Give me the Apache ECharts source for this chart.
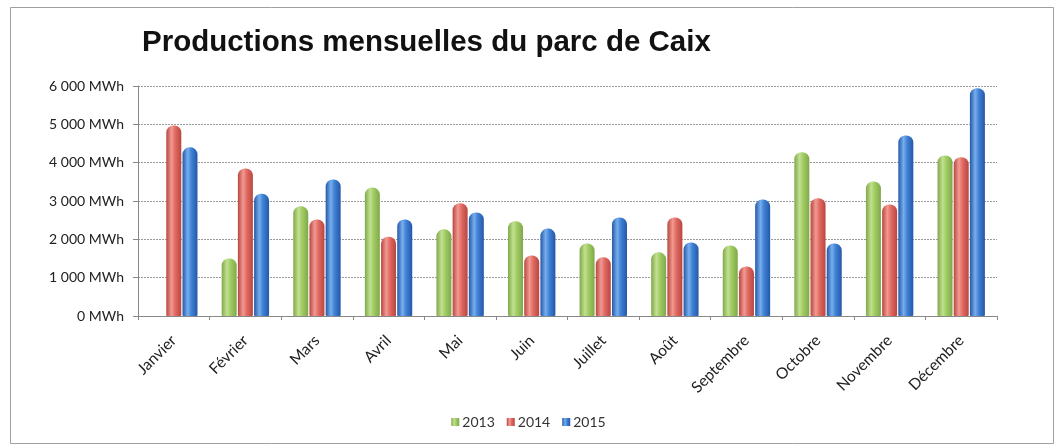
<!DOCTYPE html>
<html>
<head>
<meta charset="utf-8">
<script src="https://cdn.jsdelivr.net/npm/echarts@6/dist/echarts.min.js"></script>
<style>html,body{margin:0;padding:0;background:#fff}#c{width:1057px;height:446px}</style>
</head>
<body>
<div id="c"></div>
<script>
const months = ['Janvier','Février','Mars','Avril','Mai','Juin','Juillet','Août','Septembre','Octobre','Novembre','Décembre'];
const seriesNames = ['2013','2014','2015'];
const v2013 = [null, 1500, 2860, 3350, 2260, 2470, 1890, 1660, 1840, 4270, 3510, 4190];
const v2014 = [4970, 3850, 2520, 2070, 2940, 1580, 1530, 2570, 1290, 3070, 2910, 4140];
const v2015 = [4400, 3190, 3560, 2520, 2700, 2280, 2570, 1920, 3040, 1890, 4710, 5940];
const yTicks = ['0 MWh','1 000 MWh','2 000 MWh','3 000 MWh','4 000 MWh','5 000 MWh','6 000 MWh'];

function cyl(dark, mid, light){
  return {type:'linear', x:0, y:0, x2:1, y2:0, colorStops:[
    {offset:0, color:dark},{offset:0.35, color:light},{offset:0.6, color:mid},{offset:1, color:dark}]};
}
const styles = [
  {color: cyl('#7fa84a','#9fcb62','#c2e08f'), legend:'#8fbb55'},
  {color: cyl('#b8463f','#e06a62','#f19a92'), legend:'#d65a52'},
  {color: cyl('#2458a8','#3f80d4','#77aeec'), legend:'#3a7bd0'}
];
const data = [v2013, v2014, v2015];

const chart = echarts.init(document.getElementById('c'));
chart.setOption({
  animation:false,
  backgroundColor:'#fff',
  title:{text:'Productions mensuelles du parc de Caix', left:137, top:23,
    textStyle:{fontFamily:'Liberation Sans', fontWeight:'bold', fontSize:29.5, color:'#111'}},
  graphic:[{type:'rect', shape:{x:10.5, y:7.5, width:1043, height:436},
    style:{fill:'none', stroke:'#a0a0a0', lineWidth:1}}],
  legend:{bottom:12, left:'center', itemWidth:8, itemHeight:8, itemGap:12,
    icon:'rect',
    textStyle:{fontFamily:'Lato', fontSize:14, color:'#333', padding:[0,0,0,-2]},
    data: seriesNames},
  grid:{left:138, right:60, top:86, bottom:130},
  xAxis:{type:'category', data:months,
    axisLine:{lineStyle:{color:'#888'}},
    axisTick:{show:true, alignWithLabel:false, lineStyle:{color:'#888'}, length:4},
    axisLabel:{rotate:45, interval:0, fontFamily:'Lato', fontSize:15.5, color:'#222', margin:22}},
  yAxis:{type:'value', min:0, max:6000, interval:1000,
    axisLine:{show:true, lineStyle:{color:'#888'}},
    axisTick:{show:true, length:5, lineStyle:{color:'#888'}},
    splitLine:{lineStyle:{color:'#9a9a9a', type:[2,1], width:1}},
    axisLabel:{fontFamily:'Lato', fontSize:14, color:'#222', margin:14,
      formatter: v => yTicks[Math.round(v/1000)]}},
  series: seriesNames.map((n,i)=>({
    name:n, type:'bar', data:data[i], barWidth:15, barGap:'8%',
    itemStyle:{color: styles[i].color, borderRadius:[7,7,1,1]},
  })),
  color: styles.map(s=>s.legend)
});
</script>
</body>
</html>
